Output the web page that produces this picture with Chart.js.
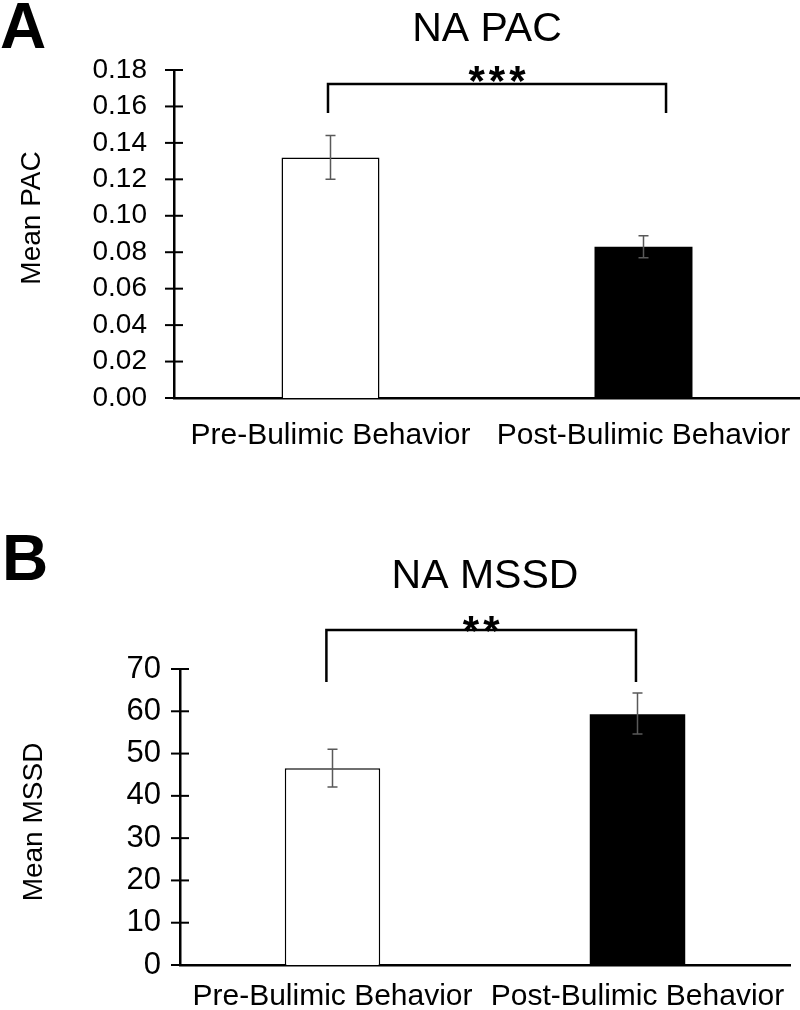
<!DOCTYPE html>
<html lang="en">
<head>
  <meta charset="UTF-8" />
  <title>NA PAC / NA MSSD</title>
  <script src="https://cdn.jsdelivr.net/npm/chart.js"></script>
  <style>
    body {
      margin: 0;
      background: #fff;
      font-family: "Liberation Sans", Arial, sans-serif;
    }
    .panel {
      position: absolute;
      left: 0;
      width: 800px;
    }
    #panelA { top: 0; height: 470px; }
    #panelB { top: 500px; height: 510px; }
  </style>
</head>
<body>
  <div class="panel" id="panelA"><canvas id="pacChart"></canvas></div>
  <div class="panel" id="panelB"><canvas id="mssdChart"></canvas></div>

  <script>
    const categories = ['Pre-Bulimic Behavior', 'Post-Bulimic Behavior'];

    const pacMeans = [0.132, 0.083];
    const pacLow = [0.120, 0.077];
    const pacHigh = [0.144, 0.089];
    const pacTicks = [0, 0.02, 0.04, 0.06, 0.08, 0.10, 0.12, 0.14, 0.16, 0.18];

    const mssdMeans = [46.5, 59.3];
    const mssdLow = [42.1, 54.6];
    const mssdHigh = [51.0, 64.3];
    const mssdTicks = [0, 10, 20, 30, 40, 50, 60, 70];

    const FONT = '"Liberation Sans", Arial, sans-serif';

    // title, panel letter, y title, significance bracket and error bars
    function makeAnnotations(cfg) {
      return {
        id: 'annotations',
        afterDatasetsDraw(chart) {
          const ctx = chart.ctx;
          const y = chart.scales.y;
          const meta = chart.getDatasetMeta(0);
          ctx.save();
          ctx.strokeStyle = '#595959';
          ctx.lineWidth = 1.5;
          meta.data.forEach((bar, i) => {
            const top = y.getPixelForValue(cfg.high[i]);
            const bot = y.getPixelForValue(cfg.low[i]);
            ctx.beginPath();
            ctx.moveTo(bar.x, top); ctx.lineTo(bar.x, bot);
            ctx.moveTo(bar.x - 5, top); ctx.lineTo(bar.x + 5, top);
            ctx.moveTo(bar.x - 5, bot); ctx.lineTo(bar.x + 5, bot);
            ctx.stroke();
          });
          ctx.restore();
        },
        afterDraw(chart) {
          const ctx = chart.ctx;
          const x = chart.scales.x, y = chart.scales.y;
          const area = chart.chartArea;
          ctx.save();

          // ticks crossing the y axis
          ctx.strokeStyle = '#000';
          ctx.lineWidth = 2;
          y.ticks.forEach((t, i) => {
            const py = y.getPixelForTick(i);
            ctx.beginPath();
            ctx.moveTo(area.left - 9, py);
            ctx.lineTo(area.left + 9, py);
            ctx.stroke();
          });

          // bracket
          const b = cfg.bracket;
          const x1 = x.getPixelForValue(b.from), x2 = x.getPixelForValue(b.to);
          const yt = y.getPixelForValue(b.top), yl = y.getPixelForValue(b.leg);
          ctx.lineWidth = 2.5;
          ctx.beginPath();
          ctx.moveTo(x1, yl); ctx.lineTo(x1, yt); ctx.lineTo(x2, yt); ctx.lineTo(x2, yl);
          ctx.stroke();

          ctx.fillStyle = '#000';
          ctx.textAlign = 'center';
          ctx.textBaseline = 'alphabetic';
          ctx.font = 'bold 42px ' + FONT;
          if ('letterSpacing' in ctx) ctx.letterSpacing = '4px';
          ctx.fillText(b.stars, (x1 + x2) / 2 + 2, b.starsY);
          if ('letterSpacing' in ctx) ctx.letterSpacing = '0px';

          // title
          ctx.font = '41px ' + FONT;
          ctx.fillText(cfg.title, (area.left + area.right) / 2, cfg.titleY);

          // y axis title
          ctx.save();
          ctx.translate(cfg.yTitleX, cfg.yTitleY);
          ctx.rotate(-Math.PI / 2);
          ctx.textBaseline = 'middle';
          ctx.font = '28px ' + FONT;
          ctx.fillText(cfg.yTitle, 0, 0);
          ctx.restore();

          // panel letter
          ctx.textAlign = 'left';
          ctx.font = 'bold 64px ' + FONT;
          ctx.fillText(cfg.letter, cfg.letterX, cfg.letterY);
          ctx.restore();
        }
      };
    }

    function renderChart(id, means, ticks, opts) {
      new Chart(document.getElementById(id), {
        type: 'bar',
        data: {
          labels: categories,
          datasets: [{
            data: means,
            backgroundColor: ['#ffffff', '#000000'],
            borderColor: '#000000',
            borderWidth: [1.5, 0],
            borderSkipped: 'start',
            barPercentage: 0.313,
            categoryPercentage: 1
          }]
        },
        options: {
          responsive: true,
          maintainAspectRatio: false,
          animation: false,
          layout: { padding: { top: opts.top, right: opts.right, left: 0, bottom: 0 } },
          plugins: { legend: { display: false }, tooltip: { enabled: false } },
          scales: {
            x: {
              z: 1,
              grid: { display: false, drawTicks: false },
              border: { display: true, color: '#000', width: 2.5 },
              ticks: {
                color: '#000', padding: opts.xPad, maxRotation: 0, autoSkip: false,
                font: { family: FONT, size: 30 }
              },
              afterFit: s => {
                s.height = opts.xHeight;
                s.paddingLeft = 0;
                s.paddingRight = 0;
              }
            },
            y: {
              z: 1,
              min: ticks[0],
              max: ticks[ticks.length - 1],
              afterBuildTicks: s => { s.ticks = ticks.map(v => ({ value: v })); },
              grid: { display: false, drawTicks: false },
              border: { display: true, color: '#000', width: 2.5 },
              ticks: {
                color: '#000',
                autoSkip: false,
                padding: opts.yPad,
                font: { family: FONT, size: opts.yFont },
                callback: v => v.toFixed(opts.decimals)
              },
              afterFit: s => { s.width = opts.yWidth; }
            }
          }
        },
        plugins: [makeAnnotations(opts.annot)]
      });
    }

    renderChart('pacChart', pacMeans, pacTicks, {
      top: 70, right: 0, xPad: 20, xHeight: 72, yWidth: 174, yPad: 27, yFont: 28, decimals: 2,
      annot: {
        low: pacLow, high: pacHigh, title: 'NA PAC', titleY: 41,
        yTitle: 'Mean PAC', yTitleX: 32, yTitleY: 218,
        letter: 'A', letterX: 0, letterY: 48,
        bracket: { from: -0.008, to: 1.072, top: 0.1723, leg: 0.1564, stars: '***', starsY: 95 }
      }
    });

    renderChart('mssdChart', mssdMeans, mssdTicks, {
      top: 169, right: 10, xPad: 14, xHeight: 45, yWidth: 180, yPad: 19, yFont: 31, decimals: 0,
      annot: {
        low: mssdLow, high: mssdHigh, title: 'NA MSSD', titleY: 88,
        yTitle: 'Mean MSSD', yTitleX: 34, yTitleY: 322,
        letter: 'B', letterX: 2, letterY: 80,
        bracket: { from: -0.02, to: 0.995, top: 79.2, leg: 66.9, stars: '**', starsY: 145 }
      }
    });
  </script>
</body>
</html>
